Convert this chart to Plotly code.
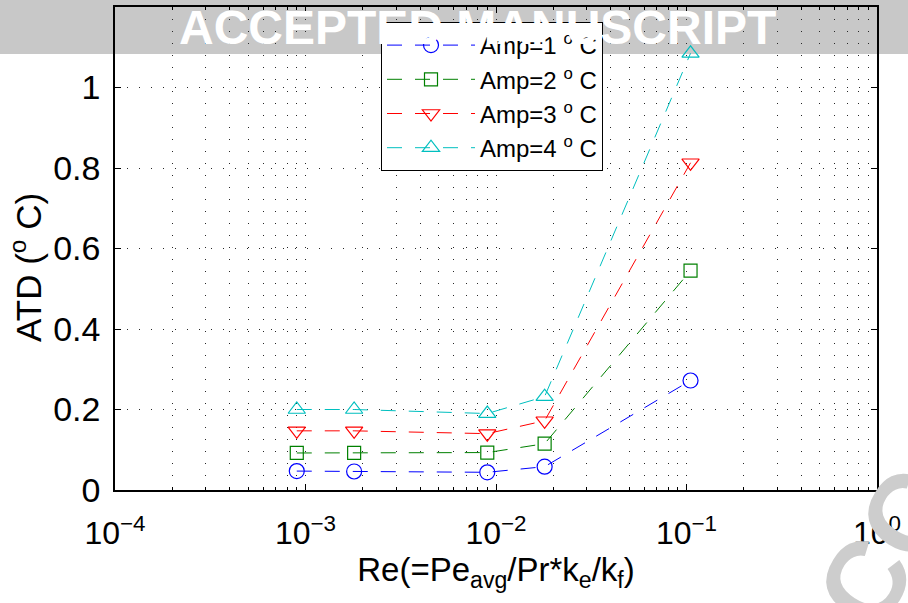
import plotly.graph_objects as go

# ---- data ----
re_vals = [9.0e-4, 1.8e-3, 9.0e-3, 1.8e-2, 1.05e-1]
amp1 = [0.047, 0.046, 0.044, 0.058, 0.272]
amp2 = [0.092, 0.092, 0.093, 0.115, 0.545]
amp3 = [0.147, 0.147, 0.140, 0.172, 0.813]
amp4 = [0.200, 0.200, 0.190, 0.232, 1.085]
series_names = ["Amp=1 <sup>o</sup> C", "Amp=2 <sup>o</sup> C",
                "Amp=3 <sup>o</sup> C", "Amp=4 <sup>o</sup> C"]
x_tick_vals = [1e-4, 1e-3, 1e-2, 1e-1, 1e0]
x_tick_text = ["10<sup>−4</sup>", "10<sup>−3</sup>", "10<sup>−2</sup>",
               "10<sup>−1</sup>", "10<sup>0</sup>"]
y_tick_vals = [0, 0.2, 0.4, 0.6, 0.8, 1.0]
y_tick_text = ["0", "0.2", "0.4", "0.6", "0.8", "1"]
x_minor_vals = [k * 10.0 ** e for e in range(-4, 0) for k in range(2, 10)]

colors = ["rgb(0,0,255)", "rgb(0,128,0)", "rgb(255,0,0)", "rgb(0,191,191)"]
symbols = ["circle-open", "square-open", "triangle-down-open", "triangle-up-open"]
sizes = [15, 13, 15, 15]

FONT = "Liberation Sans, Arial, sans-serif"
W, H = 908, 603
L, R, T, B = 115, 31, 7, 113
pw, ph = W - L - R, H - T - B


def px_x(p):
    return (p - L) / pw


def px_y(p):
    return (H - B - p) / ph


fig = go.Figure()
for ys, name, c, s, sz in zip([amp1, amp2, amp3, amp4], series_names, colors, symbols, sizes):
    fig.add_trace(go.Scatter(
        x=re_vals, y=ys, name=name, mode="lines+markers",
        line=dict(color=c, width=1, dash="15px,13px"),
        marker=dict(symbol=s, size=sz, color=c, line=dict(color=c, width=1.2)),
    ))

grid_dash = "1px,11px"
fig.update_xaxes(
    type="log", range=[-4, 0], automargin=False,
    tickmode="array", tickvals=x_tick_vals, ticktext=x_tick_text,
    ticks="inside", ticklen=6, tickcolor="black", tickwidth=1,
    showline=True, linecolor="black", linewidth=1.6, mirror="ticks",
    showgrid=True, gridcolor="rgb(40,40,40)", gridwidth=1, griddash=grid_dash,
    zeroline=False, ticklabelstandoff=14,
    tickfont=dict(family=FONT, size=32, color="black"),
    minor=dict(tickmode="array", tickvals=x_minor_vals, ticks="inside", ticklen=3,
               tickcolor="black", showgrid=True, gridcolor="rgb(40,40,40)",
               gridwidth=1, griddash=grid_dash),
    title=dict(text="Re(=Pe<sub>avg</sub>/Pr*k<sub>e</sub>/k<sub>f</sub>)",
               font=dict(family=FONT, size=33, color="black"), standoff=6),
)
fig.update_yaxes(
    range=[0, 1.2], automargin=False,
    tickmode="array", tickvals=y_tick_vals, ticktext=y_tick_text,
    ticks="inside", ticklen=6, tickcolor="black", tickwidth=1,
    showline=True, linecolor="black", linewidth=1.6, mirror="ticks",
    showgrid=True, gridcolor="rgb(40,40,40)", gridwidth=1, griddash=grid_dash,
    zeroline=False, ticklabelstandoff=6,
    tickfont=dict(family=FONT, size=34, color="black"),
)

# y-axis title placed like the reference (slightly below the plot centre)
fig.add_annotation(text="ATD (<sup>o</sup> C)", xref="paper", yref="paper",
                   x=px_x(26), y=px_y(268), xanchor="center", yanchor="middle",
                   showarrow=False, textangle=-90,
                   font=dict(family=FONT, size=35, color="black"))

# gray "accepted manuscript" banner behind the axes
fig.add_shape(type="rect", xref="paper", yref="paper",
              x0=px_x(0), x1=px_x(W), y0=px_y(54), y1=px_y(0),
              fillcolor="rgb(200,200,200)", line=dict(width=0), layer="below")
fig.add_annotation(text="<b>ACCEPTED MANUSCRIPT</b>", xref="paper", yref="paper",
                   x=px_x(477), y=px_y(28), xanchor="center", yanchor="middle",
                   showarrow=False,
                   font=dict(family=FONT, size=48, color="white"))
# diagonal watermark fragment in bottom-right corner
fig.add_annotation(text="<b>CC</b>", xref="paper", yref="paper",
                   x=px_x(885), y=px_y(548), xanchor="center", yanchor="middle",
                   showarrow=False, textangle=-58,
                   font=dict(family=FONT, size=110, color="rgb(205,205,205)"))

fig.update_layout(
    width=W, height=H,
    margin=dict(l=L, r=R, t=T, b=B, autoexpand=False),
    paper_bgcolor="white", plot_bgcolor="rgba(0,0,0,0)",
    showlegend=True,
    legend=dict(x=px_x(381), y=px_y(22), xanchor="left", yanchor="top",
                bgcolor="white", bordercolor="black", borderwidth=1,
                font=dict(family=FONT, size=24, color="black"),
                itemwidth=88, tracegroupgap=0),
)

fig.write_html("out.html", config={"displayModeBar": False},
               post_script="document.body.style.margin='0px';")
